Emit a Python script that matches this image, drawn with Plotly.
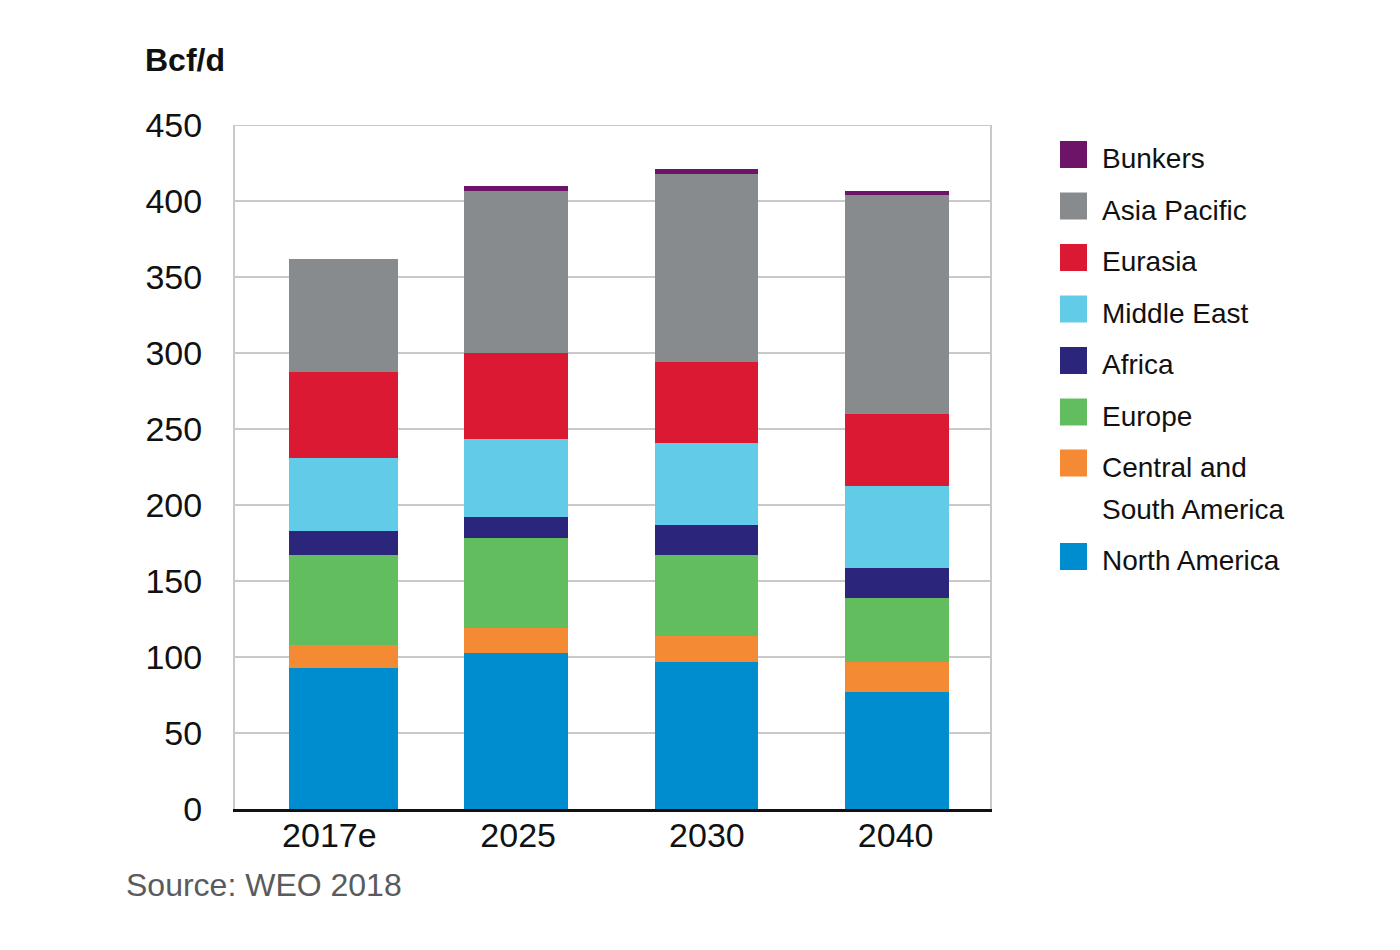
import plotly.graph_objects as go

# ---- data ----
years = ["2017e", "2025", "2030", "2040"]
north_america = [93.0, 102.4, 96.9, 77.0]
central_south_america = [14.9, 16.9, 17.0, 19.7]
europe = [59.0, 59.2, 53.2, 42.0]
africa = [15.8, 13.8, 19.9, 19.7]
middle_east = [48.4, 50.9, 53.6, 53.8]
eurasia = [56.2, 56.6, 53.4, 47.8]
asia_pacific = [74.5, 106.8, 124.0, 143.7]
bunkers = [0.0, 3.3, 3.0, 3.0]
y_ticks = [0, 50, 100, 150, 200, 250, 300, 350, 400, 450]

series = [
    ("North America", north_america, "#008dcf"),
    ("Central and<br>South America", central_south_america, "#f58a34"),
    ("Europe", europe, "#62bd5f"),
    ("Africa", africa, "#2c257c"),
    ("Middle East", middle_east, "#62cbe8"),
    ("Eurasia", eurasia, "#dc1932"),
    ("Asia Pacific", asia_pacific, "#878b8e"),
    ("Bunkers", bunkers, "#6d1368"),
]

FONT = "Liberation Sans"

# bar styling (relative to category slot)
BAR_WIDTHS = [0.577, 0.551, 0.546, 0.551]
BAR_OFFSETS = [-0.214, -0.287, -0.275, -0.268]

fig = go.Figure()
for name, vals, color in series:
    fig.add_trace(go.Bar(
        x=years, y=vals, name=name,
        marker=dict(color=color, line=dict(width=0)),
        width=BAR_WIDTHS, offset=BAR_OFFSETS, showlegend=False,
    ))

# plot area in reference pixels
L, R, T, B = 235, 990, 125, 809
W, H = 1400, 950
OFF = 8  # page offset of the rendered figure
def px(x):
    return (x - L) / (R - L)
def py(y):
    return (B - y) / (B - T)

# manual legend (top to bottom)
legend_rows = [
    ("Bunkers", "#6d1368", 154.5, 158),
    ("Asia Pacific", "#878b8e", 206, 210),
    ("Eurasia", "#dc1932", 257.5, 261),
    ("Middle East", "#62cbe8", 309, 313),
    ("Africa", "#2c257c", 360.5, 364),
    ("Europe", "#62bd5f", 412, 416),
    ("Central and", "#f58a34", 463, 467),
    ("South America", None, None, 509),
    ("North America", "#008dcf", 556.5, 560),
]
shapes = [dict(
    type="line", xref="paper", yref="y", x0=0, x1=1, y0=450, y1=450,
    line=dict(color="#c9c9c9", width=2), layer="below",
)]
annotations = []
for label, color, sq_c, txt_c in legend_rows:
    if color is not None:
        shapes.append(dict(
            type="rect", xref="paper", yref="paper",
            x0=px(1060), x1=px(1087), y0=py(sq_c + 13.5), y1=py(sq_c - 13.5),
            fillcolor=color, line=dict(width=0), layer="above",
        ))
    annotations.append(dict(
        text=label, xref="paper", yref="paper",
        x=px(1100), y=py(txt_c), xanchor="left", yanchor="middle",
        showarrow=False, font=dict(family=FONT, size=28, color="#111111"),
    ))

annotations.append(dict(
    text="<b>Bcf/d</b>", xref="paper", yref="paper",
    x=px(143), y=py(60), xanchor="left", yanchor="middle",
    showarrow=False, font=dict(family=FONT, size=32, color="#111111"),
))
annotations.append(dict(
    text="Source: WEO 2018", xref="paper", yref="paper",
    x=px(124), y=py(885), xanchor="left", yanchor="middle",
    showarrow=False, font=dict(family=FONT, size=32, color="#5a5b5d"),
))

ml, mt = L - OFF, T - OFF
mr = W - ml - (R - L)
mb = H - mt - (B - T)

fig.update_layout(
    width=W, height=H,
    margin=dict(l=ml, r=mr, t=mt, b=mb),
    barmode="stack",
    plot_bgcolor="white", paper_bgcolor="white",
    font=dict(family=FONT, size=34, color="#111111"),
    shapes=shapes, annotations=annotations,
    xaxis=dict(
        type="category", showgrid=False,
        showline=True, linecolor="#111111", linewidth=2.5,
        ticks="", ticklabelstandoff=-6, tickfont=dict(size=34, color="#111111"),
    ),
    yaxis=dict(
        range=[0, 450], tickvals=y_ticks, ticktext=[str(v) for v in y_ticks],
        showgrid=True, gridcolor="#c9c9c9", gridwidth=1.5,
        showline=True, linecolor="#c9c9c9", linewidth=2, mirror=True,
        zeroline=False, ticks="", ticklabelstandoff=24,
        tickfont=dict(size=34, color="#111111"),
    ),
)

fig.write_html("out.html")
